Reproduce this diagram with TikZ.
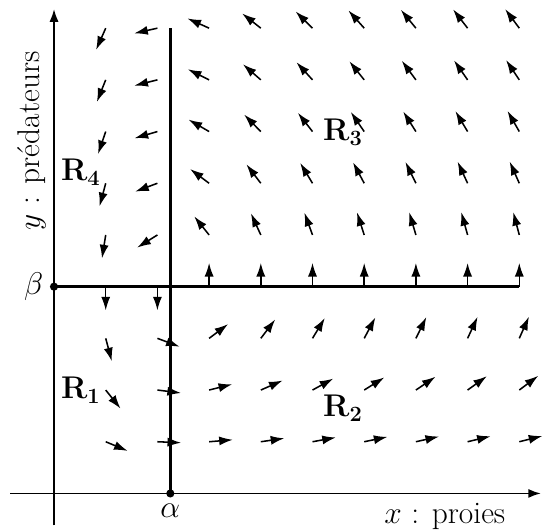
\documentclass[tikz,border=0pt]{standalone}
\usetikzlibrary{positioning,arrows.meta}

\begin{document}
\begin{tikzpicture}[x=1cm, y=1cm, every node/.style={font=\LARGE}]
  \tikzstyle{axis}=[line width=1pt, -{Latex[length=7pt,width=5pt]}]
  \tikzstyle{isocline}=[line width=1.6pt]
  \tikzstyle{field}=[line width=0.85pt, -{Latex[length=7.5pt,width=5pt]}]
  \tikzstyle{point}=[circle, fill, inner sep=0pt, minimum size=4.5pt]

  \useasboundingbox (-1.045,-0.706) rectangle (9.478,9.545);

  % axes
  \coordinate (xstart) at (-0.85,0);
  \coordinate (xend) at (9.42,0);
  \coordinate (ystart) at (0,-0.62);
  \coordinate (yend) at (0,9.37);
  \draw[axis] (xstart) -- (xend);
  \draw[axis] (ystart) -- (yend);

  % equilibrium lines x = alpha, y = beta
  \node[point] (beta) at (0,4) {};
  \node[point] (alpha) at (2.25,0) {};
  \coordinate (betaend) at (9,4);
  \coordinate (alphaend) at (2.25,9);
  \draw[isocline] (beta.center) -- (betaend);
  \draw[isocline] (alpha.center) -- (alphaend);

  % vector field x' = x(4-y), y' = y(x-alpha)
  \foreach \i in {1,...,9}
    \foreach \j in {1,...,9} {
      \pgfmathsetmacro{\vx}{\i*(4-\j)}
      \pgfmathsetmacro{\vy}{\j*(\i-2.25)}
      \pgfmathsetmacro{\vn}{0.46/sqrt(\vx*\vx+\vy*\vy)}
      \draw[field] (\i,\j) -- ++(\vn*\vx,\vn*\vy);
    }

  \node[left=0pt of beta] (betalabel) {$\beta$};
  \node[below=0pt of alpha] (alphalabel) {$\alpha$};
  \node (xlabel) at (7.56,-0.45) {$x$ : proies};
  \node[rotate=90] (ylabel) at (-0.43,6.82) {$y$ : prédateurs};

  \node (rone) at (0.52,2.0) {$\mathbf{R_1}$};
  \node (rtwo) at (5.59,1.65) {$\mathbf{R_2}$};
  \node (rthree) at (5.59,6.99) {$\mathbf{R_3}$};
  \node (rfour) at (0.52,6.22) {$\mathbf{R_4}$};
\end{tikzpicture}
\end{document}
